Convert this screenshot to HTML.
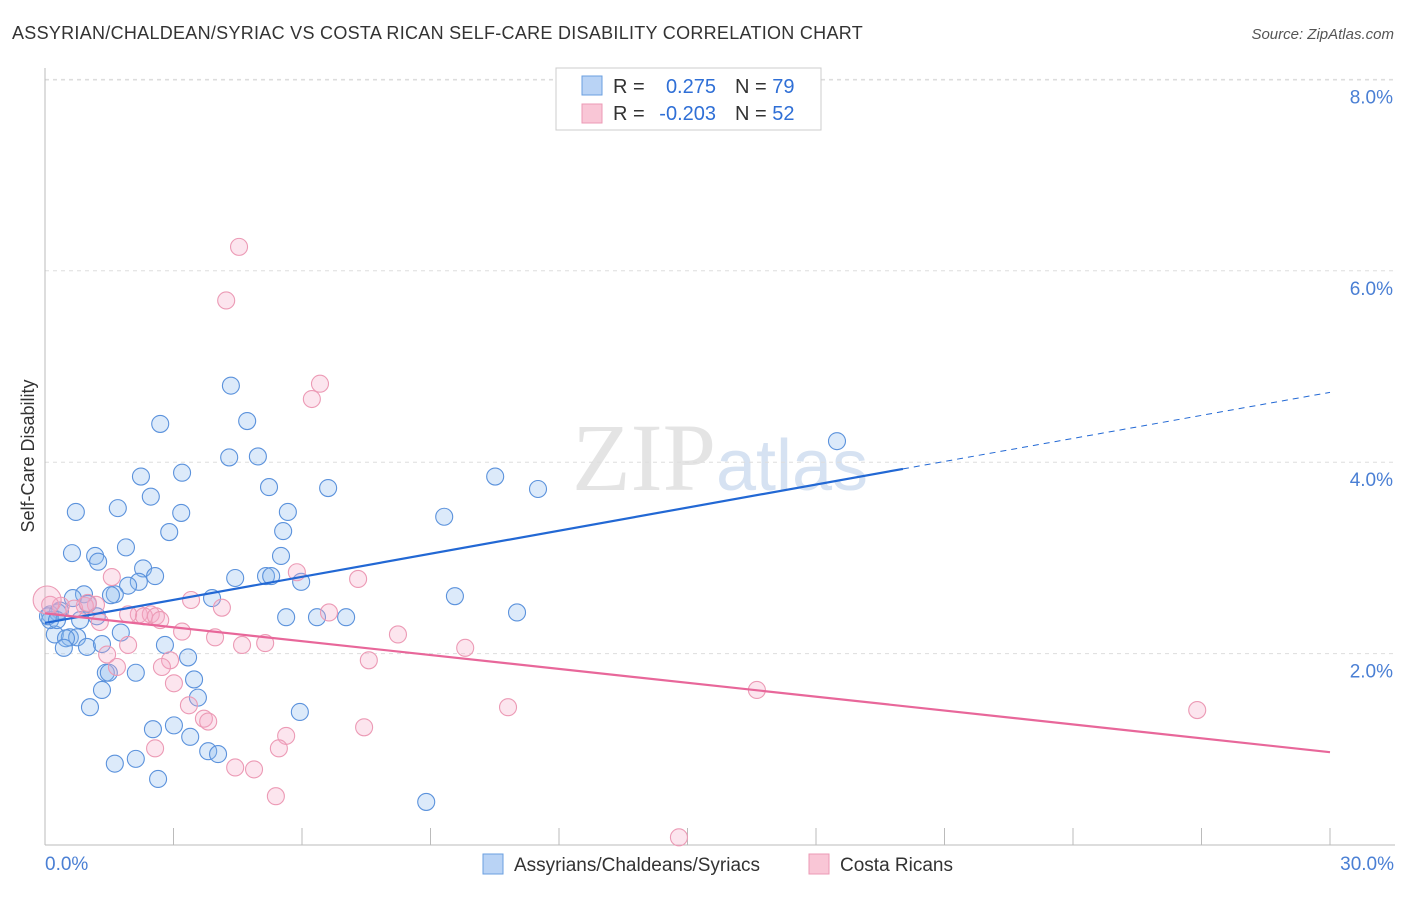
<!DOCTYPE html>
<html><head><meta charset="utf-8"><style>
body{margin:0;background:#fff;font-family:"Liberation Sans",sans-serif}
svg text{font-family:"Liberation Sans",sans-serif}
</style></head><body>
<svg id="chart" width="1406" height="892">
<text x="12" y="39" font-size="18" fill="#333" letter-spacing="0.3" textLength="851">ASSYRIAN/CHALDEAN/SYRIAC VS COSTA RICAN SELF-CARE DISABILITY CORRELATION CHART</text>
<text x="1394" y="39" font-size="15" fill="#555" font-style="italic" text-anchor="end">Source: ZipAtlas.com</text>
<text x="720" y="490" font-size="96" fill="#e4e4e4" text-anchor="middle" font-family="Liberation Serif"><tspan font-family="Liberation Serif">ZIP</tspan><tspan fill="#d6e2f2" font-size="72" font-family="Liberation Sans">atlas</tspan></text>
<g id="grid"></g><g id="axes"></g><g id="pts"></g><g id="lines"></g>
<text x="34" y="456" font-size="18" fill="#333" text-anchor="middle" transform="rotate(-90 34 456)">Self-Care Disability</text>
<g>
<rect x="556" y="68" width="265" height="62" fill="#fff" stroke="#ccc"/>
<rect x="582" y="76" width="20" height="19" fill="#b9d3f5" stroke="#6a9fe0"/>
<rect x="582" y="104" width="20" height="19" fill="#f9c6d6" stroke="#ec9ab5"/>
<text x="613" y="93" font-size="20" fill="#333">R =</text><text x="716" y="93" font-size="20" fill="#2f6fd6" text-anchor="end">0.275</text>
<text x="735" y="93" font-size="20" fill="#333">N = <tspan fill="#2f6fd6">79</tspan></text>
<text x="613" y="120" font-size="20" fill="#333">R =</text><text x="716" y="120" font-size="20" fill="#2f6fd6" text-anchor="end">-0.203</text>
<text x="735" y="120" font-size="20" fill="#333">N = <tspan fill="#2f6fd6">52</tspan></text>
</g>
<g>
<rect x="483" y="854" width="20" height="20" fill="#b9d3f5" stroke="#6a9fe0"/>
<text x="514" y="871" font-size="19" fill="#333">Assyrians/Chaldeans/Syriacs</text>
<rect x="809" y="854" width="20" height="20" fill="#f9c6d6" stroke="#ec9ab5"/>
<text x="840" y="871" font-size="19" fill="#333">Costa Ricans</text>
</g>
</svg>
<script>
const xTicks=[0,3,6,9,12,15,18,21,24,27,30];
const yTicks=[2,4,6,8];
const yTickLabels=["2.0%","4.0%","6.0%","8.0%"];
const xTickLabels=["0.0%","30.0%"];
const blueX=[2.69,4.34,4.72,4.30,4.97,3.20,2.24,5.23,6.61,10.51,11.51,18.49,9.32,2.47,1.70,0.72,3.18,5.67,2.90,5.56,1.89,0.63,1.17,1.24,5.51,2.29,2.57,2.19,1.94,4.44,5.16,5.28,5.98,0.91,1.63,1.54,0.65,3.90,9.57,11.02,1.00,0.35,0.12,0.30,5.63,6.35,7.03,1.21,0.82,1.77,0.23,0.58,0.75,0.49,0.44,0.98,2.80,1.33,3.34,3.48,2.12,1.42,1.49,1.33,3.57,1.05,5.95,3.01,2.52,3.39,3.81,4.04,2.12,1.63,2.64,8.90,0.12,0.07,0.28];
const blueY=[4.40,4.80,4.43,4.05,4.06,3.89,3.85,3.74,3.73,3.85,3.72,4.22,3.43,3.64,3.52,3.48,3.47,3.48,3.27,3.28,3.11,3.05,3.02,2.96,3.02,2.89,2.81,2.75,2.71,2.79,2.81,2.81,2.75,2.62,2.62,2.61,2.58,2.58,2.60,2.43,2.52,2.45,2.41,2.43,2.38,2.38,2.38,2.39,2.35,2.22,2.20,2.17,2.17,2.16,2.06,2.07,2.09,2.10,1.96,1.73,1.80,1.80,1.80,1.62,1.54,1.44,1.39,1.25,1.21,1.13,0.98,0.95,0.90,0.85,0.69,0.45,2.35,2.39,2.35];
const pinkX=[4.53,4.23,6.42,6.23,1.56,5.88,7.31,3.41,4.13,2.19,2.47,2.31,2.59,1.94,6.63,1.19,1.28,0.93,0.68,0.37,0.12,3.20,3.97,4.60,5.14,8.24,9.81,1.45,2.92,2.73,7.56,1.68,3.01,3.36,3.71,3.81,16.62,10.81,26.90,7.45,5.63,2.57,5.46,4.44,4.88,5.39,14.80,1.94,2.69,1.00,0.05];
const pinkY=[6.25,5.69,4.82,4.66,2.80,2.85,2.78,2.56,2.48,2.41,2.41,2.39,2.39,2.41,2.43,2.51,2.33,2.50,2.47,2.50,2.51,2.23,2.17,2.09,2.11,2.20,2.06,1.99,1.93,1.86,1.93,1.86,1.69,1.46,1.32,1.29,1.62,1.44,1.41,1.23,1.14,1.01,1.01,0.81,0.79,0.51,0.08,2.09,2.35,2.53,2.56];
const blueLine=[2.32,3.93,4.73]; // at x=0, 20.03, 30
const pinkLine=[2.42,0.97]; // at x=0, 30
const X=v=>45+v*(1285/30), Y=v=>845-v*95.7;
const NS="http://www.w3.org/2000/svg";
function mk(tag,attrs,parent){const e=document.createElementNS(NS,tag);for(const k in attrs)e.setAttribute(k,attrs[k]);document.getElementById(parent).appendChild(e);return e;}
yTicks.forEach((t,i)=>{
 const g=mk('line',{x1:45,x2:1395,y1:Y(t),y2:Y(t),stroke:'#ddd','stroke-dasharray':'4,4'},'grid');
 
 
 const l=mk('text',{x:1393,y:Y(t)+24,'font-size':19,fill:'#4a7fd4','text-anchor':'end'},'grid');l.textContent=yTickLabels[i];
 
 
});
mk('line',{x1:45,x2:1395,y1:80,y2:80,stroke:'#ddd','stroke-dasharray':'4,4'},'grid');
const ya=mk('line',{x1:45,x2:45,y1:68,y2:845,stroke:'#bbb'},'axes');


const xa=mk('line',{x1:45,x2:1395,y1:845,y2:845,stroke:'#bbb'},'axes');


xTicks.forEach(t=>{const e=mk('line',{x1:X(t),x2:X(t),y1:828,y2:845,stroke:'#bbb'},'axes');
 
 });
const l0=mk('text',{x:45,y:870,'font-size':19,fill:'#4a7fd4'},'axes');l0.textContent=xTickLabels[0];


const l1=mk('text',{x:1394,y:870,'font-size':19,fill:'#4a7fd4','text-anchor':'end'},'axes');l1.textContent=xTickLabels[1];


blueX.forEach((x,i)=>{const c=mk('circle',{cx:X(x),cy:Y(blueY[i]),r:8.5,fill:'rgba(140,185,240,0.3)',stroke:'#5b92dc','stroke-width':1.1},'pts');
 
 });
pinkX.forEach((x,i)=>{const last=i===pinkX.length-1;const c=mk('circle',{cx:X(x),cy:Y(pinkY[i]),r:last?14:8.5,fill:'rgba(245,170,198,0.3)',stroke:'#ec9ab5','stroke-width':1.1},'pts');
 
 });
const b1=mk('line',{x1:X(0),y1:Y(blueLine[0]),x2:X(20.03),y2:Y(blueLine[1]),stroke:'#2268d4','stroke-width':2.2},'lines');


const b2=mk('line',{x1:X(20.03),y1:Y(blueLine[1]),x2:X(30),y2:Y(blueLine[2]),stroke:'#2268d4','stroke-width':1,'stroke-dasharray':'6,5'},'lines');


const p1=mk('line',{x1:X(0),y1:Y(pinkLine[0]),x2:X(30),y2:Y(pinkLine[1]),stroke:'#e8679a','stroke-width':2.2},'lines');


</script>
</body></html>
